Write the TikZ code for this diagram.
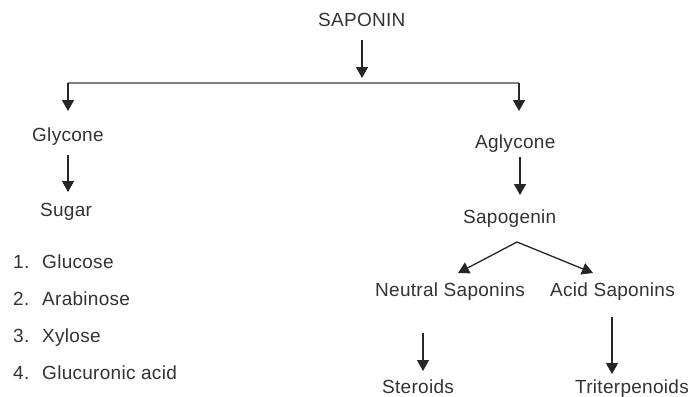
\documentclass[tikz,border=0pt]{standalone}
\usepackage{fontspec}
\setmainfont[LetterSpace=1.5]{Liberation Sans}
\usetikzlibrary{arrows.meta}
\begin{document}
\begin{tikzpicture}[x=1pt,y=-1pt,
  lbl/.style={inner sep=0pt, text=black!80, font=\fontsize{19}{22}\selectfont, anchor=base west},
  arr/.style={draw=black!85, line width=1.3pt, -{Triangle[width=12pt,length=11pt]}},
  ln/.style={draw=black!50, line width=1.5pt}]
\useasboundingbox[fill=white] (0,0) rectangle (690,396);
% nodes
\node[lbl] (saponin) at (318,26.5) {SAPONIN};
\node[lbl] (glycone) at (32,141) {Glycone};
\node[lbl] (sugar) at (40,216) {Sugar};
\node[lbl] (l1) at (13,268) {\makebox[29pt][l]{1.}Glucose};
\node[lbl] (l2) at (13,305) {\makebox[29pt][l]{2.}Arabinose};
\node[lbl] (l3) at (13,342) {\makebox[29pt][l]{3.}Xylose};
\node[lbl] (l4) at (13,379) {\makebox[29pt][l]{4.}Glucuronic acid};
\node[lbl] (aglycone) at (475,148.5) {Aglycone};
\node[lbl] (sapogenin) at (463,223) {Sapogenin};
\node[lbl] (neutral) at (375,296) {Neutral Saponins};
\node[lbl] (acid) at (550,296) {Acid Saponins};
\node[lbl] (steroids) at (382,393) {Steroids};
\node[lbl] (triterp) at (575,393) {Triterpenoids};
% connector points
\coordinate (s1) at (362,40);
\coordinate (s2) at (362,78);
\coordinate (hl) at (68,83);
\coordinate (hr) at (519,83);
\coordinate (gtop) at (68,111);
\coordinate (atop) at (519,111);
\coordinate (g1) at (68,155);
\coordinate (g2) at (68,192);
\coordinate (a1) at (520,157);
\coordinate (a2) at (520,195);
\coordinate (apex) at (517,242);
\coordinate (nt) at (458,273);
\coordinate (at) at (593,273);
\coordinate (n1) at (423,333);
\coordinate (n2) at (423,371);
\coordinate (c1) at (612,317);
\coordinate (c2) at (612,374);
% connectors
\draw[arr] (s1) -- (s2);
\draw[ln] (hl) -- (hr);
\draw[arr] (hl) -- (gtop);
\draw[arr] (hr) -- (atop);
\draw[arr] (g1) -- (g2);
\draw[arr] (a1) -- (a2);
\draw[arr] (apex) -- (nt);
\draw[arr] (apex) -- (at);
\draw[arr] (n1) -- (n2);
\draw[arr] (c1) -- (c2);
\end{tikzpicture}
\end{document}
